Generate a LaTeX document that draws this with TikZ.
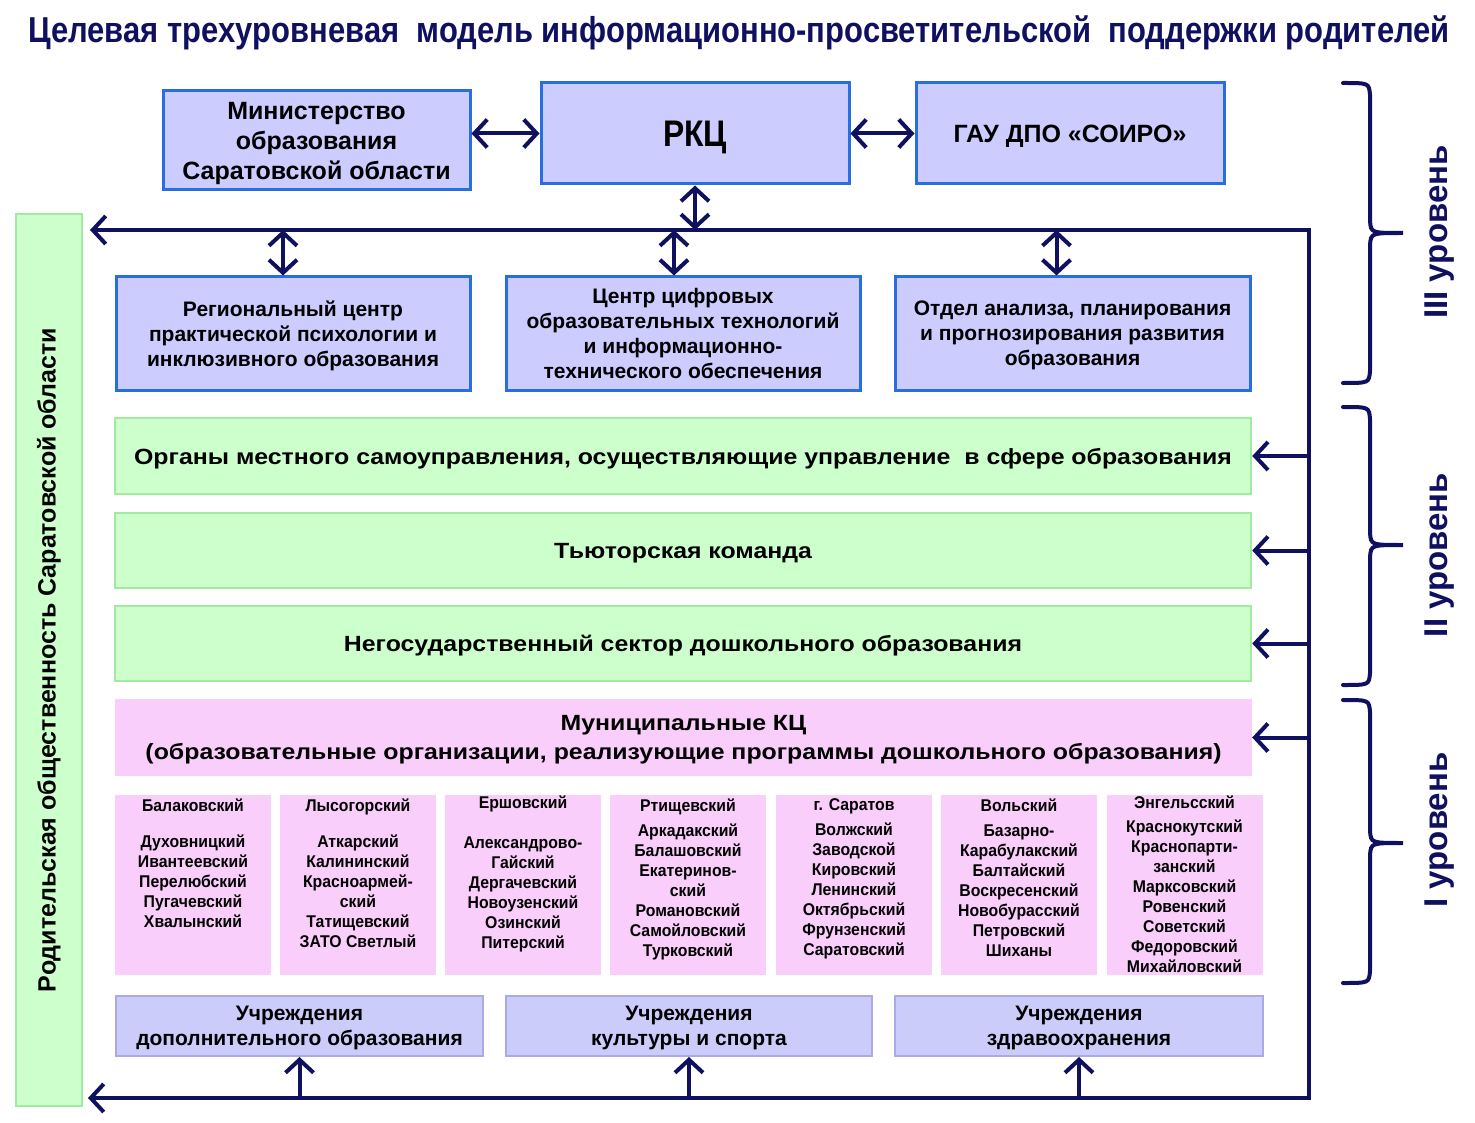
\documentclass[tikz,border=0pt]{standalone}
\usepackage{fontspec}
\setmainfont{Liberation Sans}
\newfontfamily\nrw[FakeStretch=0.93]{Liberation Sans}
\newfontfamily\ttl[FakeStretch=0.86]{Liberation Sans}
\newfontfamily\wide[FakeStretch=1.13]{Liberation Sans}
\usetikzlibrary{arrows.meta,positioning}

\definecolor{navy}{RGB}{16,16,96}
\definecolor{boxblue}{RGB}{40,110,225}
\definecolor{boxfill}{RGB}{204,204,255}
\definecolor{grfill}{RGB}{204,255,204}
\definecolor{grdraw}{RGB}{160,235,160}
\definecolor{pkfill}{RGB}{250,206,250}
\definecolor{infill}{RGB}{204,204,250}
\definecolor{indraw}{RGB}{170,170,230}

\tikzset{
  barb/.tip={Straight Barb[length=13pt,width=28pt]},
  conn/.style={draw=navy,line width=4pt,-barb},
  dblconn/.style={conn,barb-barb},
  brace/.style={draw=navy,line width=4pt,line cap=round},
  topbox/.style={draw=boxblue,fill=boxfill,line width=3pt,inner sep=0pt,align=center,text depth=0pt},
  greenbar/.style={draw=grdraw,fill=grfill,line width=2.5pt,inner sep=0pt,align=center,text depth=0pt,
    minimum width=1136pt,font=\wide\bfseries\fontsize{22}{27}\selectfont},
  pinkbar/.style={fill=pkfill,inner sep=0pt,align=center,text depth=0pt,
    minimum width=1137pt,minimum height=77pt,font=\wide\bfseries\fontsize{22}{29}\selectfont},
  distbox/.style={fill=pkfill,inner sep=0pt,minimum width=156pt,minimum height=180pt},
  disttext/.style={inner sep=0pt,align=center,font=\nrw\bfseries\fontsize{17}{20}\selectfont},
  instbox/.style={draw=indraw,fill=infill,line width=2pt,inner sep=0pt,align=center,text depth=0pt,
    minimum height=60pt,font=\bfseries\fontsize{21}{25}\selectfont},
  lvl/.style={text=navy,rotate=90,font=\bfseries\fontsize{33}{36}\selectfont}
}

\begin{document}
\begin{tikzpicture}[x=1pt,y=1pt,yscale=-1]
\useasboundingbox (0,0) rectangle (1475,1123);

%Title
\node[text=navy,font=\ttl\bfseries\fontsize{36}{40}\selectfont] (title) at (739,33)
  {Целевая трехуровневая\ \ модель информационно-просветительской\ \ поддержки родителей};

%Top row
\node[topbox,minimum width=307pt,minimum height=99pt,font=\bfseries\fontsize{25}{30}\selectfont]
  (min) at (316.5,140.5) {Министерство\\образования\\Саратовской области};
\node[topbox,minimum width=308pt,minimum height=101pt,font=\ttl\bfseries\fontsize{37}{40}\selectfont]
  (rkc) at (695,133.5) {РКЦ};
\node[topbox,minimum width=308pt,minimum height=101pt,font=\bfseries\fontsize{25}{28}\selectfont]
  (soiro) at (1070,133.5) {ГАУ ДПО «СОИРО»};

%Regional centres
\node[topbox,minimum width=354pt,minimum height=113pt,font=\bfseries\fontsize{21}{25}\selectfont]
  (rcpp) at (293,333.5) {Региональный центр\\практической психологии и\\инклюзивного образования};
\node[topbox,minimum width=354pt,minimum height=113pt,font=\bfseries\fontsize{21}{25}\selectfont]
  (cdot) at (683,333.5) {Центр цифровых\\образовательных технологий\\и информационно-\\технического обеспечения};
\node[topbox,minimum width=355pt,minimum height=113pt,font=\bfseries\fontsize{21}{25}\selectfont]
  (otdel) at (1072.5,333.5) {Отдел анализа, планирования\\и прогнозирования развития\\образования};

%Level II bars
\node[greenbar,minimum height=76pt] (oms) at (683,456)
  {Органы местного самоуправления, осуществляющие управление\ \ в сфере образования};
\node[greenbar,minimum height=75pt] (tutor) at (683,550.5) {Тьюторская команда};
\node[greenbar,minimum height=75pt] (nsector) at (683,643.5) {Негосударственный сектор дошкольного образования};

%Level I
\node[pinkbar] (mkc) at (683.5,737.5)
  {Муниципальные КЦ\\(образовательные организации, реализующие программы дошкольного образования)};

\node[distbox] (d1) at (193,885) {};
\node[distbox] (d2) at (358,885) {};
\node[distbox] (d3) at (523,885) {};
\node[distbox] (d4) at (688,885) {};
\node[distbox] (d5) at (854,885) {};
\node[distbox] (d6) at (1019,885) {};
\node[distbox] (d7) at (1184.5,885) {};

\node[disttext,below=4pt of d1.north] (t1)
  {Балаковский\\[16pt]Духовницкий\\Ивантеевский\\Перелюбский\\Пугачевский\\Хвалынский};
\node[disttext,below=4pt of d2.north] (t2)
  {Лысогорский\\[16pt]Аткарский\\Калининский\\Красноармей-\\ский\\Татищевский\\ЗАТО Светлый};
\node[disttext,below=1pt of d3.north] (t3)
  {Ершовский\\[20pt]Александрово-\\Гайский\\Дергачевский\\Новоузенский\\Озинский\\Питерский};
\node[disttext,below=4pt of d4.north] (t4)
  {Ртищевский\\[5pt]Аркадакский\\Балашовский\\Екатеринов-\\ский\\Романовский\\Самойловский\\Турковский};
\node[disttext,below=4pt of d5.north] (t5)
  {г. Саратов\\[5pt]Волжский\\Заводской\\Кировский\\Ленинский\\Октябрьский\\Фрунзенский\\Саратовский};
\node[disttext,below=4pt of d6.north] (t6)
  {Вольский\\[5pt]Базарно-\\Карабулакский\\Балтайский\\Воскресенский\\Новобурасский\\Петровский\\Шиханы};
\node[disttext,below=1pt of d7.north] (t7)
  {Энгельсский\\[4pt]Краснокутский\\Краснопарти-\\занский\\Марксовский\\Ровенский\\Советский\\Федоровский\\Михайловский};

%Institutions
\node[instbox,minimum width=367pt] (udo) at (299.5,1026) {Учреждения\\дополнительного образования};
\node[instbox,minimum width=366pt] (uks) at (689,1026) {Учреждения\\культуры и спорта};
\node[instbox,minimum width=368pt] (uzd) at (1079,1026) {Учреждения\\здравоохранения};

%Parents
\node[draw=grdraw,fill=grfill,line width=2.5pt,minimum width=66pt,minimum height=892pt,inner sep=0pt]
  (parents) at (49,660) {};
\node[rotate=90,font=\bfseries\fontsize{25}{30}\selectfont] (ptext) at (parents.center)
  {Родительская общественность Саратовской области};

%Frame line
\coordinate (ltop) at (90,230);
\coordinate (rtop) at (1309,230);
\coordinate (rbot) at (1309,1098);
\coordinate (lbot) at (88,1098);
\draw[dblconn] (ltop) -- (rtop) -- (rbot) -- (lbot);

%Arrows
\draw[dblconn] (rkc.west -| min.east) -- (rkc.west);
\draw[dblconn] (rkc.east) -- (soiro.west);
\draw[dblconn] (rkc.south) -- (rkc.south |- rtop);
\draw[dblconn] ([xshift=-10pt]rcpp.north |- ltop) -- ([xshift=-10pt]rcpp.north);
\draw[dblconn] ([xshift=-9pt]cdot.north |- ltop) -- ([xshift=-9pt]cdot.north);
\draw[dblconn] ([xshift=-16pt]otdel.north |- ltop) -- ([xshift=-16pt]otdel.north);
\draw[conn] (oms.east -| rtop) -- (oms.east);
\draw[conn] (tutor.east -| rtop) -- (tutor.east);
\draw[conn] (nsector.east -| rtop) -- (nsector.east);
\draw[conn] (mkc.east -| rtop) -- (mkc.east);
\draw[conn] (udo.south |- lbot) -- (udo.south);
\draw[conn] (uks.south |- lbot) -- (uks.south);
\draw[conn] (uzd.south |- lbot) -- (uzd.south);

%Braces
\draw[brace] (1343,83) .. controls (1369,83) .. (1370,95) -- (1370,221) .. controls (1371,233) .. (1403,233)
  .. controls (1371,233) .. (1370,245) -- (1370,371) .. controls (1369,383) .. (1343,383);
\draw[brace] (1343,407) .. controls (1369,407) .. (1370,419) -- (1370,533) .. controls (1371,545) .. (1403,545)
  .. controls (1371,545) .. (1370,557) -- (1370,673) .. controls (1369,685) .. (1343,685);
\draw[brace] (1343,700) .. controls (1369,700) .. (1370,712) -- (1370,831) .. controls (1371,843) .. (1403,843)
  .. controls (1371,843) .. (1370,855) -- (1370,971) .. controls (1369,983) .. (1343,983);
\node[lvl] (lvl3) at (1440,232) {III уровень};
\node[lvl] (lvl2) at (1440,555) {II уровень};
\node[lvl] (lvl1) at (1440,830) {I уровень};

\end{tikzpicture}
\end{document}
